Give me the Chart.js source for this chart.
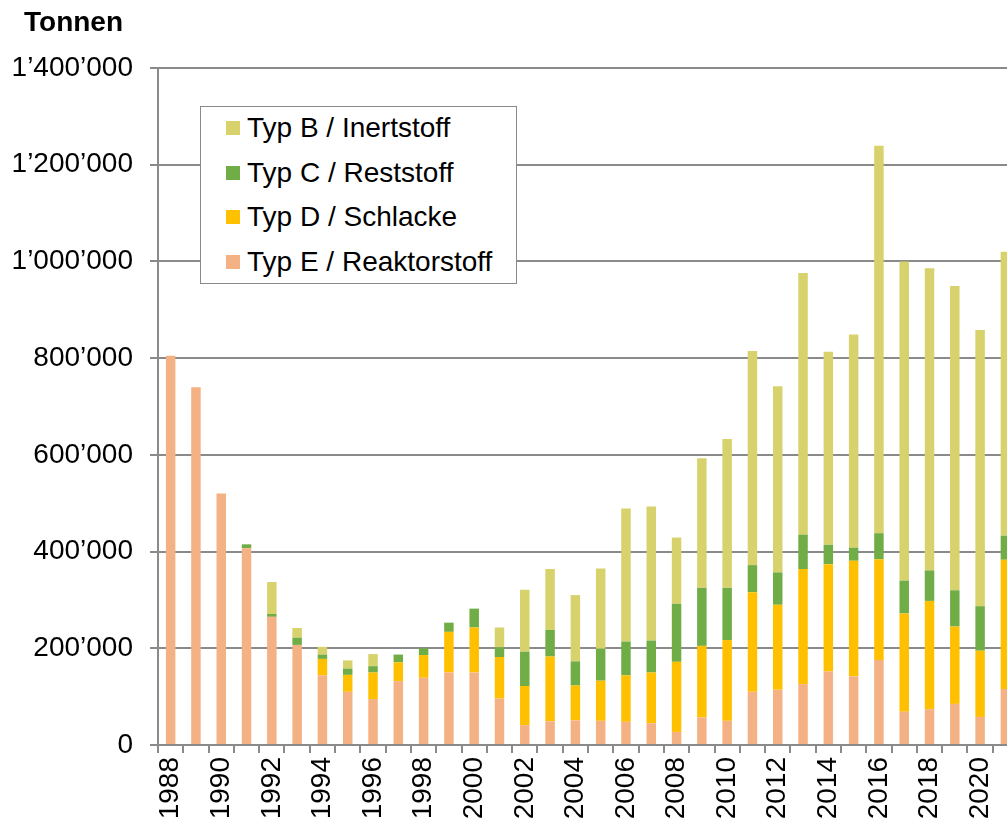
<!DOCTYPE html>
<html>
<head>
<meta charset="utf-8">
<script src="https://cdn.jsdelivr.net/npm/chart.js@4"></script>
<style>
  html, body { margin: 0; padding: 0; background: #fff; overflow: hidden; }
  #wrap { position: relative; width: 1007px; height: 827px; overflow: hidden; }
  #box { position: absolute; left: 0; top: 0; width: 1043px; height: 827px; }
  #Abfall { display: block; width: 1043px; height: 827px; }
  #title { position: absolute; left: 24px; top: 6px; font: bold 28px "Liberation Sans", Arial, sans-serif; color: #000; }
  #legend { position: absolute; left: 200px; top: 106px; width: 315px; height: 176px;
            border: 1.5px solid #8a8a8a; background: #fff; font: 28px "Liberation Sans", Arial, sans-serif; }
  .item { position: absolute; left: 46px; height: 30px; line-height: 30px; white-space: nowrap; }
  .sw { position: absolute; left: -21px; top: 8px; width: 14px; height: 14px; }
</style>
</head>
<body>
<div id="wrap">
  <div id="box"><canvas id="Abfall" width="1043" height="827"></canvas></div>
  <div id="title">Tonnen</div>
  <div id="legend"></div>
</div>
<script>
var years = [];
for (var y = 1988; y <= 2021; y++) years.push(String(y));

// Typ E / Reaktorstoff
var typE = [805000, 740000, 520000, 407000, 265000, 207000, 144000, 110000, 95000, 132000,
            139000, 150000, 150000, 96000, 41000, 49000, 51000, 50000, 48000, 45000,
            27000, 57000, 50000, 110000, 114000, 126000, 152000, 142000, 176000, 69000,
            74000, 85000, 58000, 116000];
// Typ D / Schlacke
var typD = [0, 0, 0, 0, 0, 0, 34000, 35000, 55000, 39000,
            47000, 84000, 93000, 86000, 81000, 134000, 72000, 83000, 96000, 105000,
            145000, 148000, 167000, 206000, 176000, 238000, 222000, 239000, 208000, 203000,
            224000, 160000, 137000, 267000];
// Typ C / Reststoff
var typC = [0, 0, 0, 8000, 6000, 15000, 9000, 13000, 13000, 16000,
            14000, 19000, 39000, 20000, 71000, 55000, 50000, 66000, 70000, 66000,
            120000, 120000, 108000, 56000, 67000, 71000, 40000, 27000, 54000, 68000,
            63000, 75000, 92000, 50000];
// Typ B / Inertstoff
var typB = [0, 0, 0, 0, 66000, 20000, 16000, 17000, 25000, 0,
            0, 0, 0, 41000, 128000, 126000, 137000, 166000, 275000, 277000,
            137000, 268000, 308000, 443000, 385000, 541000, 399000, 441000, 801000, 660000,
            625000, 629000, 571000, 587000];

var names = ['Typ E / Reaktorstoff', 'Typ D / Schlacke', 'Typ C / Reststoff', 'Typ B / Inertstoff'];
var colors = ['#F4B183', '#FFC000', '#70AD47', '#D7D26C'];
var yTicks = [0, 200000, 400000, 600000, 800000, 1000000, 1200000, 1400000];

function fmt(v) {
    return String(v).replace(/\B(?=(\d{3})+(?!\d))/g, '\u2019');
}

// legend (B on top, E at bottom)
var legend = document.getElementById('legend');
var rowTop = [6, 51, 95, 140];
for (var i = 0; i < 4; i++) {
    var k = 3 - i;
    var d = document.createElement('div');
    d.className = 'item';
    d.style.top = rowTop[i] + 'px';
    d.innerHTML = '<span class="sw" style="background:' + colors[k] + '"></span>' + names[k];
    legend.appendChild(d);
}

var font = { family: '"Liberation Sans", Arial, sans-serif', size: 28 };

var ctx = document.getElementById('Abfall').getContext('2d');
var chart = new Chart(ctx, {
    type: 'bar',
    data: {
        labels: years,
        datasets: [
            { label: names[0], data: typE, backgroundColor: colors[0] },
            { label: names[1], data: typD, backgroundColor: colors[1] },
            { label: names[2], data: typC, backgroundColor: colors[2] },
            { label: names[3], data: typB, backgroundColor: colors[3] }
        ]
    },
    options: {
        responsive: false,
        animation: false,
        layout: { padding: { top: 68, right: 0, left: 0, bottom: 0 } },
        datasets: { bar: { barPercentage: 1.0, categoryPercentage: 0.375 } },
        plugins: { legend: { display: false }, tooltip: { enabled: false } },
        scales: {
            x: {
                stacked: true,
                grid: { offset: true, drawOnChartArea: false, tickLength: 8, color: '#8a8a8a', lineWidth: 2 },
                border: { color: '#8a8a8a', width: 2 },
                ticks: {
                    autoSkip: false, maxRotation: 90, minRotation: 90, padding: 4,
                    color: '#000', font: font,
                    callback: function (v, i) { return i % 2 === 0 ? this.getLabelForValue(v) : ''; }
                },
                afterFit: function (s) { s.height = 82; }
            },
            y: {
                stacked: true,
                min: 0, max: 1400000,
                afterBuildTicks: function (s) { s.ticks = yTicks.map(function (v) { return { value: v }; }); },
                grid: { tickLength: 8, color: '#8a8a8a', lineWidth: 2 },
                border: { color: '#8a8a8a', width: 2 },
                ticks: { padding: 17, color: '#000', font: font, callback: function (v) { return fmt(v); } },
                afterFit: function (s) { s.width = 158; }
            }
        }
    }
});
</script>
</body>
</html>
